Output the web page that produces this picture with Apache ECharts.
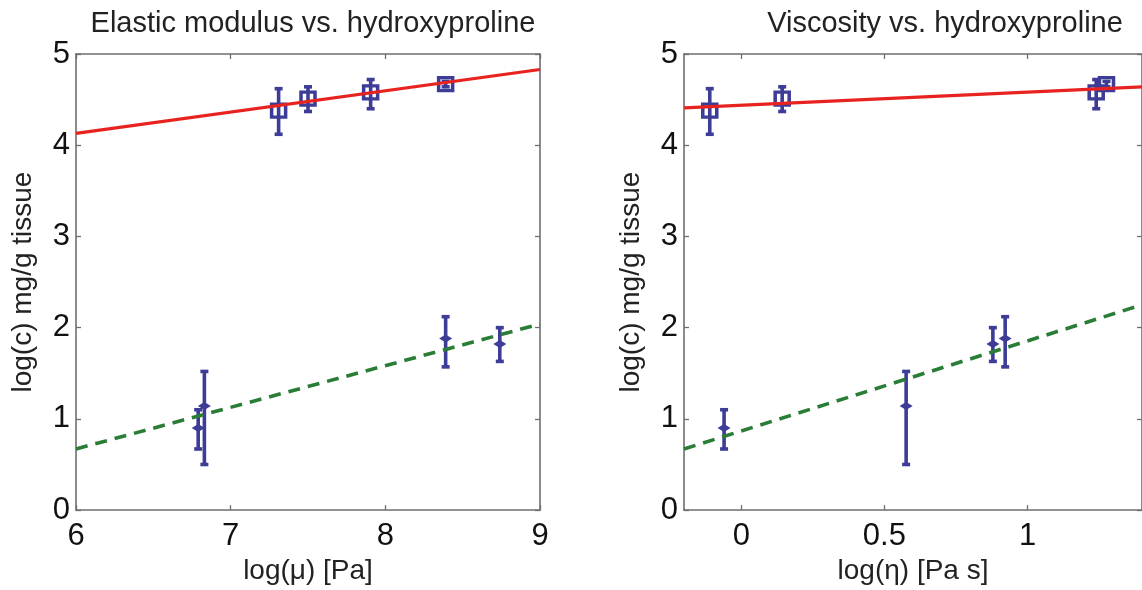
<!DOCTYPE html>
<html><head><meta charset="utf-8">
<script src="https://cdn.jsdelivr.net/npm/echarts@6/dist/echarts.min.js"></script>
<style>html,body{margin:0;padding:0;background:#fff}#c{width:1142px;height:590px}</style>
</head><body><div id="c"></div>
<script>
// ---- data ----
// group A (blue squares, red solid fit)
const cA     = [4.38, 4.51, 4.58, 4.67];
const cA_lo  = [4.12, 4.37, 4.40, 4.64];
const cA_hi  = [4.62, 4.64, 4.72, 4.70];
const muA    = [7.31, 7.50, 7.905, 8.39];
const etaA   = [-0.11, 0.143, 1.24, 1.276];
// group B (blue diamonds, green dashed fit)
const cB     = [0.90, 1.14, 1.88, 1.82];
const cB_lo  = [0.67, 0.50, 1.57, 1.63];
const cB_hi  = [1.10, 1.52, 2.12, 2.00];
const muB    = [6.79, 6.83, 8.39, 8.74];
const etaB   = [-0.06, 0.576, 0.922, 0.879];
// fitted lines (end points)
const fitA_mu  = [[6, 4.13], [9, 4.83]];
const fitB_mu  = [[6, 0.67], [9, 2.04]];
const fitA_eta = [[-0.2, 4.41], [1.4, 4.64]];
const fitB_eta = [[-0.2, 0.67], [1.4, 2.25]];
// axes
const muRange  = [6, 9];
const etaRange = [-0.2, 1.4];
const etaTicks = [0, 0.5, 1];
const cRange   = [0, 5];
const titles = ['Elastic modulus vs. hydroxyproline', 'Viscosity vs. hydroxyproline'];
const xNames = ['log(\u03bc) [Pa]', 'log(\u03b7) [Pa s]'];
const yName  = 'log(c) mg/g tissue';

// ---- styling ----
const FONT = 'Liberation Sans, Arial, sans-serif';
const BLUE = '#3d3c97', RED = '#e8231f', GREEN = '#2a7d36', AX = '#6e6e6e';

function pts(xs, ys) { return xs.map((x, i) => [x, ys[i]]); }
function bars(xs, lo, hi) { return xs.map((x, i) => [x, lo[i], hi[i]]); }

function errRender(params, api) {
  const x = api.value(0);
  const p1 = api.coord([x, api.value(1)]);
  const p2 = api.coord([x, api.value(2)]);
  const cap = 4;
  const st = { stroke: BLUE, lineWidth: 3.6, fill: null };
  return { type: 'group', children: [
    { type: 'line', shape: { x1: p1[0], y1: p1[1], x2: p2[0], y2: p2[1] }, style: st },
    { type: 'line', shape: { x1: p1[0] - cap, y1: p1[1], x2: p1[0] + cap, y2: p1[1] }, style: st },
    { type: 'line', shape: { x1: p2[0] - cap, y1: p2[1], x2: p2[0] + cap, y2: p2[1] }, style: st }
  ]};
}

const grids = [
  { left: 76, top: 54, width: 464, height: 458 },
  { left: 684, top: 54, width: 459, height: 458 }
];

function xAxes(g, range, ticks, name) {
  const base = {
    gridIndex: g, type: 'value', min: range[0], max: range[1],
    axisLine: { show: true, onZero: false, lineStyle: { color: AX, width: 1.6 } },
    axisTick: { show: true, inside: true, length: 5, lineStyle: { color: AX, width: 1.3 } },
    splitLine: { show: false }
  };
  if (ticks) {
    base.axisTick.customValues = ticks;
  } else {
    base.interval = 1;
  }
  const bottom = Object.assign({}, base, {
    position: 'bottom', name: name, nameLocation: 'middle', nameGap: 46,
    nameTextStyle: { fontFamily: FONT, fontSize: 28, color: '#222' },
    axisLabel: Object.assign({ fontFamily: FONT, fontSize: 31, color: '#111', margin: 11 },
      ticks ? { customValues: ticks } : {})
  });
  const top = Object.assign({}, base, { position: 'top', axisLabel: { show: false },
    axisTick: Object.assign({}, base.axisTick) });
  return [bottom, top];
}
function yAxes(g) {
  const base = {
    gridIndex: g, type: 'value', min: cRange[0], max: cRange[1], interval: 1,
    axisLine: { show: true, onZero: false, lineStyle: { color: AX, width: 1.6 } },
    axisTick: { show: true, inside: true, length: 5, lineStyle: { color: AX, width: 1.3 } },
    splitLine: { show: false }
  };
  const left = Object.assign({}, base, {
    position: 'left', name: yName, nameLocation: 'middle', nameGap: 39,
    nameTextStyle: { fontFamily: FONT, fontSize: 28, color: '#222' },
    axisLabel: { fontFamily: FONT, fontSize: 31, color: '#111', margin: 6 }
  });
  const right = Object.assign({}, base, { position: 'right', axisLabel: { show: false } });
  return [left, right];
}

const xAxis = [...xAxes(0, muRange, null, xNames[0]), ...xAxes(1, etaRange, etaTicks, xNames[1])];
const yAxis = [...yAxes(0), ...yAxes(1)];

function panelSeries(xi, yi, xA, xB, fitA, fitB) {
  return [
    { type: 'custom', xAxisIndex: xi, yAxisIndex: yi, renderItem: errRender, data: bars(xA, cA_lo, cA_hi), z: 2 },
    { type: 'custom', xAxisIndex: xi, yAxisIndex: yi, renderItem: errRender, data: bars(xB, cB_lo, cB_hi), z: 2 },
    { type: 'scatter', xAxisIndex: xi, yAxisIndex: yi, data: pts(xA, cA), symbol: 'rect', symbolSize: [14, 13],
      itemStyle: { color: 'rgba(255,255,255,0)', borderColor: BLUE, borderWidth: 3.4, opacity: 1 }, z: 3 },
    { type: 'scatter', xAxisIndex: xi, yAxisIndex: yi, data: pts(xB, cB), symbol: 'diamond', symbolSize: [13, 8],
      itemStyle: { color: BLUE, opacity: 1 }, z: 3 },
    { type: 'line', xAxisIndex: xi, yAxisIndex: yi, data: fitA, showSymbol: false, symbol: 'none',
      lineStyle: { color: RED, width: 3.2 }, z: 4 },
    { type: 'line', xAxisIndex: xi, yAxisIndex: yi, data: fitB, showSymbol: false, symbol: 'none',
      lineStyle: { color: GREEN, width: 3.6, type: [12, 8] }, z: 4 }
  ];
}

const chart = echarts.init(document.getElementById('c'));
chart.setOption({
  animation: false,
  backgroundColor: '#fff',
  title: [
    { text: titles[0], left: 308, top: 4, textAlign: 'center',
      textStyle: { fontFamily: FONT, fontSize: 29, fontWeight: 'normal', color: '#222' } },
    { text: titles[1], left: 940, top: 4, textAlign: 'center',
      textStyle: { fontFamily: FONT, fontSize: 29, fontWeight: 'normal', color: '#222' } }
  ],
  grid: grids,
  xAxis: xAxis,
  yAxis: yAxis,
  series: [
    ...panelSeries(0, 0, muA, muB, fitA_mu, fitB_mu),
    ...panelSeries(2, 2, etaA, etaB, fitA_eta, fitB_eta)
  ]
});
</script>
</body></html>
